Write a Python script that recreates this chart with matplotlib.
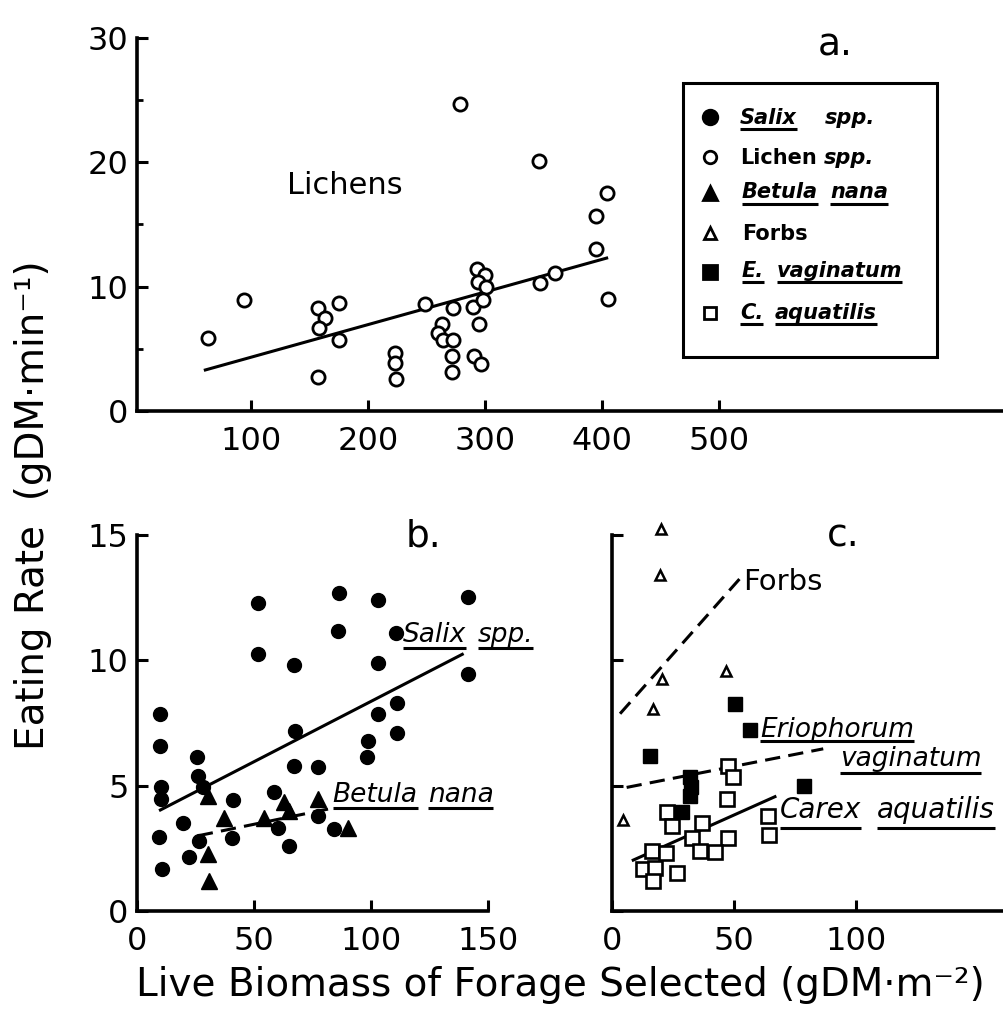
import matplotlib
matplotlib.use('Agg')
import matplotlib.pyplot as plt
from matplotlib.lines import Line2D
from matplotlib.patches import Rectangle

plt.rcParams['font.family'] = ['DejaVu Sans']

# ---------------- data ----------------
# panel a: lichens
lichen_x = [63, 94, 157, 163, 158, 175, 175, 157, 223, 223, 224, 249, 263, 260, 264,
            273, 273, 272, 272, 279, 290, 293, 300, 294, 301, 298, 295, 291, 297,
            346, 347, 360, 395, 404, 395, 405]
lichen_y = [5.9, 8.9, 8.3, 7.5, 6.7, 8.7, 5.7, 2.7, 4.7, 3.9, 2.6, 8.6, 7.0, 6.3, 5.7,
            8.3, 5.7, 4.4, 3.1, 24.7, 8.4, 11.4, 10.9, 10.4, 10.0, 8.9, 7.0, 4.4, 3.8,
            20.1, 10.3, 11.1, 15.7, 17.5, 13.0, 9.0]
lichen_fit_x = [61, 404]
lichen_fit_y = [3.3, 12.3]

# panel b: Salix spp. and Betula nana
salix_x = [10, 10, 10.3, 10.3, 9.5, 10.5, 19.5, 22.4, 25.5, 25.9, 28.1, 26.6, 40.9, 40.5,
           51.6, 51.6, 58.7, 60.1, 65.1, 67.7, 67.2, 67.2, 77.2, 77.5, 86.5, 85.8, 98.6,
           98.3, 102.9, 103.1, 103.1, 110.7, 111, 111, 141.6, 141.6, 84]
salix_y = [7.87, 6.6, 4.96, 4.47, 2.96, 1.67, 3.53, 2.16, 6.13, 5.4, 4.93, 2.8, 4.43, 2.91,
           12.27, 10.27, 4.73, 3.33, 2.6, 7.2, 9.83, 5.8, 5.73, 3.8, 12.69, 11.16, 6.8,
           6.13, 12.4, 9.91, 7.87, 11.09, 8.29, 7.1, 12.53, 9.44, 3.29]
salix_fit_x = [10, 139]
salix_fit_y = [4.03, 10.24]

betula_x = [30.2, 37, 30.5, 30.9, 54.4, 63, 65, 77.2, 90]
betula_y = [4.6, 3.73, 2.27, 1.2, 3.73, 4.33, 4.0, 4.47, 3.33]
betula_fit_x = [26, 85]
betula_fit_y = [3.0, 4.13]

# panel c: Forbs, Eriophorum vaginatum, Carex aquatilis
forbs_x = [19.9, 19.7, 20.4, 16.7, 46.7, 4.6]
forbs_y = [15.23, 13.4, 9.27, 8.07, 9.57, 3.63]
forbs_fit_x = [3.3, 52.5]
forbs_fit_y = [7.87, 13.27]

evag_x = [50.4, 56.6, 15.6, 32, 32.2, 32, 28.6, 78.7]
evag_y = [8.24, 7.23, 6.2, 5.33, 4.93, 4.6, 3.93, 5.0]
evag_fit_x = [6, 86.6]
evag_fit_y = [4.93, 6.47]

carex_x = [47.7, 49.7, 47, 22.4, 24.5, 36.8, 32.7, 47.7, 36.1, 42.2, 64.1, 64.5,
           16.3, 22.1, 12.8, 17.6, 26.5, 16.9]
carex_y = [5.8, 5.33, 4.47, 3.93, 3.4, 3.53, 2.93, 2.93, 2.4, 2.37, 3.8, 3.04,
           2.4, 2.33, 1.67, 1.73, 1.53, 1.2]
carex_fit_x = [8.7, 66.8]
carex_fit_y = [2.03, 4.56]

a_xticks = [100, 200, 300, 400, 500]
a_yticks = [0, 10, 20, 30]
a_yminor = [5, 15, 25]
b_xticks = [0, 50, 100, 150]
b_yticks = [0, 5, 10, 15]
c_xticks = [0, 50, 100]
c_yticks = [0, 5, 10, 15]

y_label = 'Eating Rate  (gDM\u00b7min\u207b\u00b9)'
x_label = 'Live Biomass of Forage Selected (gDM\u00b7m\u207b\u00b2)'

# ---------------- figure ----------------
W, H = 1004, 1016
fig = plt.figure(figsize=(W / 100, H / 100), dpi=100)
fig.patch.set_facecolor('white')

SP_LW = 2.6
TICK_FS = 23


def add_ax(l, t, r, b):
    ax = fig.add_axes([l / W, 1 - b / H, (r - l) / W, (b - t) / H])
    ax.patch.set_alpha(0)
    for s in ('top', 'right'):
        ax.spines[s].set_visible(False)
    for s in ('left', 'bottom'):
        ax.spines[s].set_linewidth(SP_LW)
    ax.tick_params(which='major', direction='in', length=8, width=2.2,
                   labelsize=TICK_FS, color='black')
    ax.tick_params(axis='y', pad=6)
    ax.tick_params(axis='x', pad=11)
    return ax


LW = 2.2
DASH = (0, (5, 2.7))

# panel a
axa = add_ax(137, 38, 1004, 411)
axa.set_xlim(2.6, 743.6)
axa.set_ylim(0, 30)
axa.set_xticks(a_xticks)
axa.set_yticks(a_yticks)
axa.set_yticks(a_yminor, minor=True)
axa.tick_params(which='minor', axis='y', direction='in', length=4, width=2)
axa.plot(lichen_fit_x, lichen_fit_y, color='black', lw=LW, zorder=2)
axa.plot(lichen_x, lichen_y, ls='none', marker='o', ms=9.5, mfc='white',
         mec='black', mew=2.0, zorder=3, clip_on=False)

# panel b
axb = add_ax(137, 535, 488, 911)
axb.set_xlim(0, 150)
axb.set_ylim(0, 15)
axb.set_xticks(b_xticks)
axb.set_yticks(b_yticks)
axb.plot(salix_fit_x, salix_fit_y, color='black', lw=LW, zorder=2)
axb.plot(betula_fit_x, betula_fit_y, color='black', lw=LW, ls=DASH, zorder=2)
axb.plot(salix_x, salix_y, ls='none', marker='o', ms=10, mfc='black',
         mec='black', zorder=3, clip_on=False)
axb.plot(betula_x, betula_y, ls='none', marker='^', ms=11, mfc='black',
         mec='black', zorder=3, clip_on=False)

# panel c
axc = add_ax(612, 535, 1004, 911)
axc.set_xlim(0, 160.7)
axc.set_ylim(0, 15)
axc.set_xticks(c_xticks)
axc.set_yticks(c_yticks)
axc.set_yticklabels([])
axc.plot(forbs_fit_x, forbs_fit_y, color='black', lw=LW, ls=DASH, zorder=2)
axc.plot(evag_fit_x, evag_fit_y, color='black', lw=LW, ls=DASH, zorder=2)
axc.plot(carex_fit_x, carex_fit_y, color='black', lw=LW, zorder=2)
axc.plot(forbs_x, forbs_y, ls='none', marker='^', ms=7.5, mfc='white',
         mec='black', mew=1.8, zorder=3, clip_on=False)
axc.plot(carex_x, carex_y, ls='none', marker='s', ms=10, mfc='white',
         mec='black', mew=1.9, zorder=3, clip_on=False)
axc.plot(evag_x, evag_y, ls='none', marker='s', ms=10.5, mfc='black',
         mec='black', zorder=4, clip_on=False)

# axis titles
fig.text(33 / W, 1 - 505 / H, y_label, rotation=90, fontsize=28,
         ha='center', va='center')
fig.text(560 / W, 1 - 985 / H, x_label, fontsize=28, ha='center', va='center')

renderer = fig.canvas.get_renderer()


def word(xpx, ypx, s, size, style='normal', weight='normal', ul=None):
    """xpx, ypx: pixel position from top-left, text baseline-left."""
    t = fig.text(xpx / W, 1 - ypx / H, s, fontsize=size, style=style,
                 weight=weight, ha='left', va='baseline')
    bb = t.get_window_extent(renderer)
    if ul is not None:
        yy = 1 - (ypx + ul) / H
        fig.add_artist(Line2D([bb.x0 / W, bb.x1 / W], [yy, yy],
                              transform=fig.transFigure, color='black',
                              lw=2.2, solid_capstyle='butt'))
    return bb.x1


def phrase(ax, x, y, words, size, gap, style='normal', weight='normal', ul=None):
    dx, dy = ax.transData.transform((x, y))
    cur = dx
    ypx = H - dy
    for w_ in words:
        cur = word(cur, ypx, w_, size, style, weight, ul) + gap


# panel letters and curve labels
word(818, 56, 'a.', 27)
phrase(axb, 114.9, 14.53, ['b.'], 27, 0)
phrase(axc, 88.1, 14.56, ['c.'], 27, 0)
phrase(axa, 130.8, 17.48, ['Lichens'], 22, 0)
phrase(axb, 113.5, 10.73, ['Salix', 'spp.'], 19, 12, style='italic', ul=6)
phrase(axb, 83.6, 4.33, ['Betula', 'nana'], 19, 10, style='italic', ul=6)
phrase(axc, 53.7, 12.8, ['Forbs'], 21, 0)
phrase(axc, 60.7, 6.96, ['Eriophorum'], 19, 0, style='italic', ul=4)
phrase(axc, 93.4, 5.8, ['vaginatum'], 19, 0, style='italic', ul=7)
phrase(axc, 68.9, 3.71, ['Carex', 'aquatilis'], 20, 16, style='italic', ul=10)

# legend box
fig.add_artist(Rectangle((683 / W, 1 - 357 / H), (937 - 683) / W, (357 - 83) / H,
                         transform=fig.transFigure, fill=False, lw=2.2,
                         edgecolor='black'))

legend_rows = [
    # marker, face, marker y, baseline y, [(text, style, underline, x)]
    ('o', 'black', 116.7, 123.5, [('Salix', 'italic', True, 740), ('spp.', 'italic', False, 825)]),
    ('o', 'white', 157.3, 164.0, [('Lichen', 'normal', False, 740), ('spp.', 'italic', False, 824)]),
    ('^', 'black', 192.7, 198.5, [('Betula', 'italic', True, 742), ('nana', 'italic', True, 830)]),
    ('^', 'white', 233.3, 240.5, [('Forbs', 'normal', False, 742)]),
    ('s', 'black', 271.7, 277.0, [('E.', 'italic', True, 742), ('vaginatum', 'italic', True, 777)]),
    ('s', 'white', 312.7, 319.3, [('C.', 'italic', True, 740), ('aquatilis', 'italic', True, 775)]),
]
marker_size = {'o': 10.5, '^': 10.5, 's': 10.5}
for mk, face, my, by, items in legend_rows:
    ms = marker_size[mk]
    if face == 'white':
        ms -= 1.5
    fig.add_artist(Line2D([710 / W], [1 - my / H], transform=fig.transFigure,
                          marker=mk, ms=ms, mfc=face, mec='black', mew=2.0,
                          ls='none'))
    for txt, st, ul, x in items:
        word(x, by, txt, 15, style=st, weight='bold', ul=5 if ul else None)

fig.savefig('out.png', dpi=100, facecolor='white')
